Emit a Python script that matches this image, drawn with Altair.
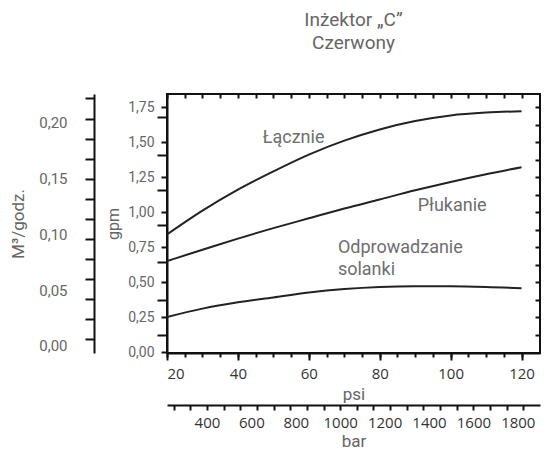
import altair as alt
import pandas as pd

# ---- data ----
psi = [20, 30, 40, 50, 60, 70, 80, 90, 100, 110, 120]
lacznie = [0.84, 1.01, 1.16, 1.29, 1.41, 1.51, 1.59, 1.65, 1.69, 1.71, 1.72]
plukanie = [0.65, 0.73, 0.81, 0.885, 0.955, 1.025, 1.09, 1.155, 1.215, 1.27, 1.32]
odprowadzanie = [0.25, 0.31, 0.355, 0.39, 0.425, 0.45, 0.465, 0.47, 0.47, 0.465, 0.455]
series_names = ["Łącznie", "Płukanie", "Odprowadzanie solanki"]

label_text = ["Łącznie", "Płukanie", "Odprowadzanie", "solanki"]
label_psi = [47.0, 90.7, 68.2, 68.2]
label_gpm = [1.53, 1.04, 0.74, 0.585]

psi_labels = [20, 40, 60, 80, 100, 120]
psi_minor = list(range(20, 125, 5))
gpm_labels = [0.0, 0.25, 0.5, 0.75, 1.0, 1.25, 1.5, 1.75]
gpm_long = [0.12, 0.37, 0.64, 0.91, 1.16, 1.41, 1.68]
gpm_right = [0.125 * i for i in range(1, 15)]
m3_labels = [0.0, 0.05, 0.10, 0.15, 0.20]
m3_ticks = [0.006, 0.024, 0.042, 0.06, 0.078, 0.096, 0.114, 0.132, 0.15, 0.168, 0.186, 0.204, 0.222]
bar_labels = [400, 600, 800, 1000, 1200, 1400, 1600, 1800]
bar_minor = list(range(250, 1900, 75))

title_lines = ["Inżektor „C”", "Czerwony"]

X_DOM = [20, 125.2]
Y_DOM = [-0.007, 1.843]
BAR_DOM = [220, 1900]
M3_DOM = [-0.0063, 0.226]

rows = []
for name, vals in zip(series_names, [lacznie, plukanie, odprowadzanie]):
    for p, v in zip(psi, vals):
        rows.append({"series": name, "psi": p, "gpm": v})
df = pd.DataFrame(rows)
labels_df = pd.DataFrame({"text": label_text, "psi": label_psi, "gpm": label_gpm})

COMMA = "replace(format(datum.value, '.2f'), '.', ',')"


def sx(dom):
    return alt.Scale(domain=dom, nice=False, zero=False)


base = alt.Chart(df)

lines = base.mark_line(color="#222222", strokeWidth=2, interpolate="monotone", clip=True).encode(
    x=alt.X("psi:Q", scale=sx(X_DOM), axis=alt.Axis(
        orient="bottom", values=psi_labels, tickSize=7, labelPadding=6,
        labelFont="Open Sans", labelFontSize=15, labelColor="#333333",
        title="psi", titleFontSize=17, titleColor="#666666", titlePadding=5, domain=True)),
    y=alt.Y("gpm:Q", scale=sx(Y_DOM), axis=alt.Axis(
        orient="left", values=gpm_labels, tickSize=6, labelPadding=7,
        labelExpr=COMMA, labelFontSize=14, labelColor="#666666",
        title="gpm", titleFontSize=16, titleColor="#666666", titlePadding=6, domain=True)),
    detail="series:N",
)

minor1 = base.mark_point(opacity=0).encode(
    x=alt.X("psi:Q", scale=sx(X_DOM), axis=alt.Axis(
        orient="bottom", values=psi_minor, tickSize=4, labels=False, title=None, domain=False)),
    y=alt.Y("gpm:Q", scale=sx(Y_DOM), axis=alt.Axis(
        orient="left", values=gpm_long, tickSize=10, labels=False, title=None, domain=False)),
)

frame_ticks = base.mark_point(opacity=0).encode(
    x=alt.X("psi:Q", scale=sx(X_DOM), axis=alt.Axis(
        orient="top", values=psi_minor, tickSize=4, offset=-4, labels=False, title=None, domain=False)),
    y=alt.Y("gpm:Q", scale=sx(Y_DOM), axis=alt.Axis(
        orient="right", values=gpm_right, tickSize=5, offset=-5, labels=False, title=None, domain=False)),
)

unit_labels = base.mark_point(opacity=0, clip=True).encode(
    x=alt.X("psi:Q", scale=sx(BAR_DOM), axis=alt.Axis(
        orient="bottom", offset=52, values=bar_labels, ticks=False, labelPadding=10, format="d",
        labelFont="Open Sans", labelFontSize=15, labelColor="#333333",
        title="bar", titleFontSize=17, titleColor="#666666", titlePadding=3, domain=False)),
    y=alt.Y("gpm:Q", scale=sx(M3_DOM), axis=alt.Axis(
        orient="left", offset=73, values=m3_labels, ticks=False, labelPadding=27,
        labelExpr=COMMA, labelFontSize=15, labelColor="#666666",
        title="M³/godz.", titleFontSize=17, titleColor="#666666", titlePadding=11, domain=False)),
)

unit_ticks = base.mark_point(opacity=0, clip=True).encode(
    x=alt.X("psi:Q", scale=sx(BAR_DOM), axis=alt.Axis(
        orient="bottom", offset=52, values=bar_minor, tickSize=5, labels=False, title=None, domain=True)),
    y=alt.Y("gpm:Q", scale=sx(M3_DOM), axis=alt.Axis(
        orient="left", offset=73, values=m3_ticks, tickSize=9, labels=False, title=None, domain=True)),
)

texts = alt.Chart(labels_df).mark_text(
    align="left", baseline="middle", font="Roboto", fontSize=18, color="#6e6e6e"
).encode(
    x=alt.X("psi:Q", scale=sx(X_DOM), axis=None),
    y=alt.Y("gpm:Q", scale=sx(Y_DOM), axis=None),
    text="text:N",
)

chart = alt.layer(lines, minor1, frame_ticks, unit_labels, unit_ticks, texts).resolve_scale(
    x="independent", y="independent"
).properties(
    width=373, height=259,
    autosize=alt.AutoSizeParams(type="none"),
    padding={"left": 159, "top": 86, "right": 10, "bottom": 98},
    title=alt.TitleParams(title_lines, anchor="middle", font="Roboto", fontSize=19,
                          fontWeight="normal", color="#666666", lineHeight=23, offset=40),
).configure_view(
    stroke="#111111", strokeWidth=2
).configure_axis(
    grid=False, labelFont="Roboto", titleFont="Roboto", titleFontWeight="normal",
    domainColor="#111111", domainWidth=2, tickColor="#111111", tickWidth=2,
)

chart.save("out.html", embed_options={"renderer": "svg", "actions": False})
